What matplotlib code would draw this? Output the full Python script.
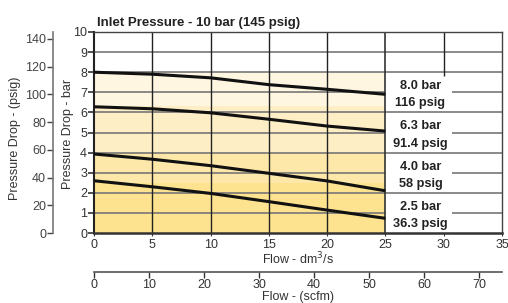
import numpy as np
import matplotlib
matplotlib.use('Agg')
import matplotlib.pyplot as plt

plt.rcParams['font.family'] = ['Liberation Sans', 'DejaVu Sans']

# flow in dm3/s and pressure drop (bar) for each outlet setting
flow = [0, 5, 10, 15, 20, 25]
curve_80 = [8.0, 7.9, 7.72, 7.38, 7.15, 6.9]
curve_63 = [6.28, 6.18, 5.98, 5.66, 5.32, 5.07]
curve_40 = [3.93, 3.67, 3.35, 2.97, 2.59, 2.1]
curve_25 = [2.6, 2.3, 1.97, 1.56, 1.14, 0.73]
levels = [2.5, 4.0, 6.3, 8.0]
band_colors = ['#fde28f', '#fde8aa', '#feeec6', '#fff6e1']
bar_labels = ['8.0 bar', '6.3 bar', '4.0 bar', '2.5 bar']
psig_labels = ['116 psig', '91.4 psig', '58 psig', '36.3 psig']
label_rows = [7, 5, 3, 1]

W, H = 508, 303
fig = plt.figure(figsize=(W / 100, H / 100), dpi=100)
ax = fig.add_axes([94 / W, (H - 233) / H, 408 / W, 201 / H])
ax.set_xlim(0, 35)
ax.set_ylim(0, 10)

# stepped colour bands
lo = 0
for lev, c in zip(levels, band_colors):
    ax.fill_between([0, 25], lo, lev, color=c, lw=0, zorder=0)
    lo = lev

# grid
for y in range(1, 10):
    if y % 2 == 0 or y == 9:
        ax.hlines(y, 0, 35, color='#777777', lw=1.2, zorder=1)
    else:
        ax.hlines(y, 0, 25, color='#777777', lw=1.2, zorder=1)
        ax.hlines(y, 30.7, 35, color='#777777', lw=1.2, zorder=1)
for x in [5, 10, 15, 20]:
    ax.vlines(x, 0, 10, color='#222222', lw=1.0, zorder=1)
ax.vlines(25, 0, 10, color='#333333', lw=1.2, zorder=1)
ax.vlines(30, 7.8, 10, color='#222222', lw=1.0, zorder=1)

for cv in [curve_80, curve_63, curve_40, curve_25]:
    ax.plot(flow, cv, color='#111111', lw=2.2, zorder=3, solid_capstyle='butt')

for row, bl, pl in zip(label_rows, bar_labels, psig_labels):
    ax.text(28, row + 0.3, bl, ha='center', va='center', fontsize=9.2,
            fontweight='bold', color='#222222')
    ax.text(28, row - 0.55, pl, ha='center', va='center', fontsize=9.2,
            fontweight='bold', color='#222222')

for side in ['top', 'right']:
    ax.spines[side].set_color('#444444')
    ax.spines[side].set_linewidth(1.0)
ax.spines['left'].set_color('#222222')
ax.spines['left'].set_linewidth(1.5)
ax.spines['bottom'].set_color('#333333')
ax.spines['bottom'].set_linewidth(1.8)

ax.set_xticks(range(0, 36, 5))
ax.set_yticks(range(0, 11))
ax.tick_params(axis='x', length=2, pad=2, labelsize=9, colors='#333333')
ax.tick_params(axis='y', length=4, width=1.2, pad=1, labelsize=9, colors='#333333')
ax.set_xlabel('Flow - dm$^3$/s', fontsize=9, color='#333333', labelpad=0)

ax.set_title('Inlet Pressure - 10 bar (145 psig)', loc='left', x=0.007, pad=4,
             fontsize=9.5, fontweight='bold', color='#222222')

# psig axis on the far left
psig = ax.secondary_yaxis((53 - 94) / 408,
                          functions=(lambda b: b * 14.5038, lambda p: p / 14.5038))
psig.set_yticks(range(0, 141, 20))
psig.spines['left'].set_color('#777777')
psig.spines['left'].set_linewidth(1.2)
psig.tick_params(length=4, width=1.0, pad=1, labelsize=9, colors='#444444')

# scfm axis underneath
scfm = ax.secondary_xaxis((233 - 272) / 201,
                          functions=(lambda d: d * 2.1189, lambda s: s / 2.1189))
scfm.set_xticks(range(0, 71, 10))
scfm.spines['bottom'].set_color('#555555')
scfm.spines['bottom'].set_linewidth(1.2)
scfm.tick_params(length=4, width=1.0, pad=1, labelsize=9, colors='#333333')
scfm.set_xlabel('Flow - (scfm)', fontsize=9, color='#333333', labelpad=0)

fig.text(15 / W, 1 - 138 / H, 'Pressure Drop - (psig)', rotation=90,
         ha='center', va='center', fontsize=9, color='#333333')
fig.text(68 / W, 1 - 134 / H, 'Pressure Drop - bar', rotation=90,
         ha='center', va='center', fontsize=9, color='#333333')

fig.savefig('out.png', dpi=100)
